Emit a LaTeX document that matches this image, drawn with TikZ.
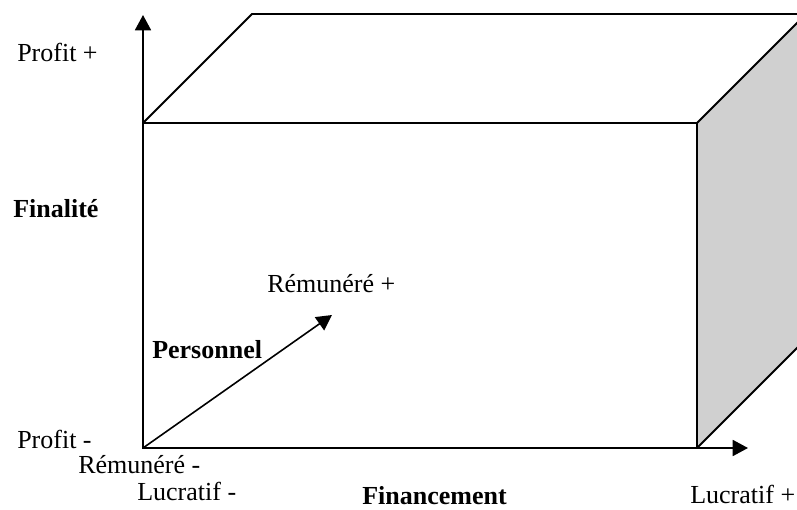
\documentclass[tikz,border=0pt]{standalone}
\usepackage{fontspec}
\setmainfont{Liberation Serif}
\usetikzlibrary{arrows.meta}
\definecolor{sidegray}{RGB}{208,208,208}
\begin{document}
\begin{tikzpicture}[x=0.75pt,y=-0.75pt,
  edge/.style={line width=1.4pt, line join=miter},
  axis/.style={line width=1.4pt, -{Triangle[length=11.5pt,width=12pt]}},
  lbl/.style={anchor=base west, inner sep=0pt, font=\fontsize{19.5}{23}\selectfont},
  blbl/.style={lbl, font=\fontsize{19.5}{23}\selectfont\bfseries}]
\useasboundingbox (0,0) rectangle (797,510);
\clip (0,0) rectangle (797,510);
% corners
\coordinate (O) at (143,448);
\coordinate (FTL) at (143,123);
\coordinate (FTR) at (697,123);
\coordinate (FBR) at (697,448);
\coordinate (BTL) at (252,14);
\coordinate (BTR) at (806,14);
\coordinate (BBR) at (806,339);
\coordinate (Ytip) at (143,15);
\coordinate (Xtip) at (748,448);
\coordinate (Ptip) at (332,315);
% right face
\fill[sidegray] (FTR) -- (BTR) -- (BBR) -- (FBR) -- cycle;
\draw[edge] (FTR) -- (BTR);
\draw[edge] (FBR) -- (BBR);
% top face
\draw[edge] (FTL) -- (BTL) -- (BTR);
% front face
\draw[edge] (FTL) rectangle (FBR);
% axes
\draw[axis] (O) -- (Ytip);
\draw[axis] (O) -- (Xtip);
\draw[axis, line width=1.2pt] (O) -- (Ptip);
% labels
\node[lbl] (pp) at (17,62) {Profit +};
\node[blbl] (fin) at (13,217) {Finalité};
\node[lbl] (rp) at (267,292) {Rémunéré +};
\node[blbl] (pers) at (152,358) {Personnel};
\node[lbl] (pm) at (17,448) {Profit -};
\node[lbl] (rm) at (78,473) {Rémunéré -};
\node[lbl] (lm) at (137,500) {Lucratif -};
\node[blbl] (fnc) at (362,504) {Financement};
\node[lbl] (lp) at (690,503) {Lucratif +};
\end{tikzpicture}
\end{document}
